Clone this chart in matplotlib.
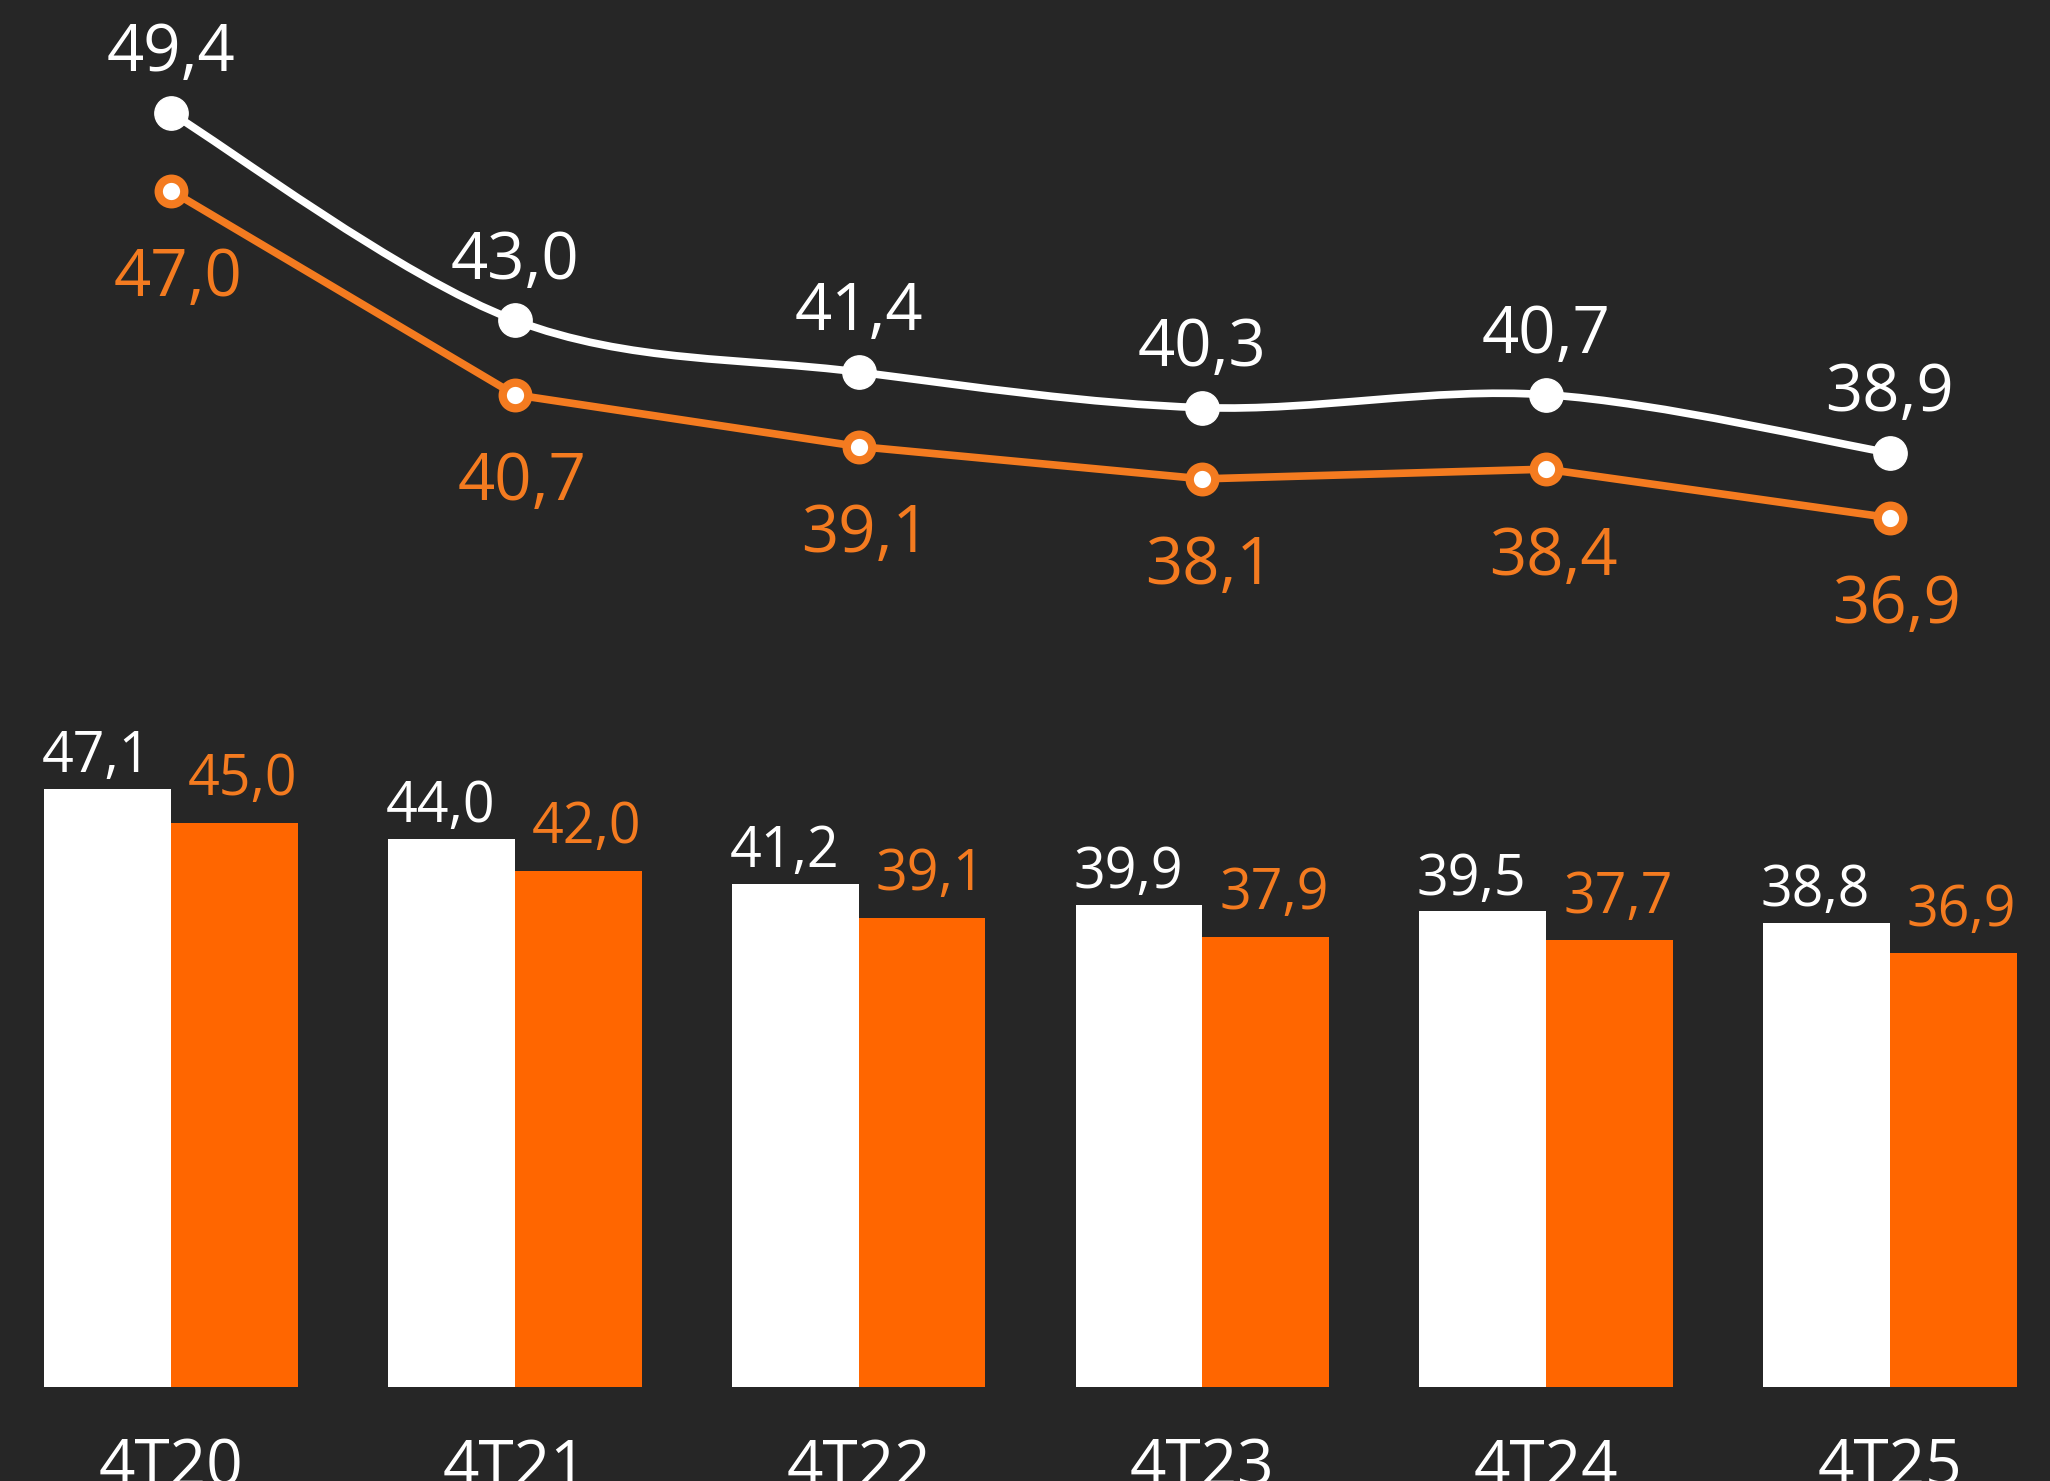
import matplotlib
matplotlib.use('Agg')
import matplotlib.pyplot as plt
from matplotlib.path import Path
import matplotlib.patches as mpatches
import numpy as np

plt.rcParams['font.family'] = ['Open Sans', 'DejaVu Sans']

# data
quarters = ['4T20', '4T21', '4T22', '4T23', '4T24', '4T25']
line_white = [49.4, 43.0, 41.4, 40.3, 40.7, 38.9]
line_orange = [47.0, 40.7, 39.1, 38.1, 38.4, 36.9]
bar_white = [47.1, 44.0, 41.2, 39.9, 39.5, 38.8]
bar_orange = [45.0, 42.0, 39.1, 37.9, 37.7, 36.9]

def fmt(v):
    return '{:.1f}'.format(v).replace('.', ',')

bg = '#262626'
orange_line = '#F47B20'
orange_bar = '#FF6600'

W, H = 2050, 1481
fig = plt.figure(figsize=(W / 100, H / 100), dpi=100)
fig.patch.set_facecolor(bg)

x = np.arange(len(quarters))
xlim = (-0.4974, 5.4654)

# bar axes: bottom at baseline (94 px from figure bottom)
bar_bottom_px = 94
bar_h_px = 800
ax_b = fig.add_axes([0, bar_bottom_px / H, 1, bar_h_px / H])
ax_b.set_facecolor('none')
ax_b.set_xlim(*xlim)
ax_b.set_ylim(10, 10 + bar_h_px / 16.12)
w = 0.3686
ax_b.bar(x - w / 2, bar_white, width=w, color='white', linewidth=0)
ax_b.bar(x + w / 2, bar_orange, width=w, color=orange_bar, linewidth=0)
for i in range(len(quarters)):
    ax_b.annotate(fmt(bar_white[i]), (x[i] - w / 2, bar_white[i]),
                  xytext=(-8, 12), textcoords='offset points',
                  ha='center', va='baseline', color='white', fontsize=40)
    ax_b.annotate(fmt(bar_orange[i]), (x[i] + w / 2, bar_orange[i]),
                  xytext=(6, 20), textcoords='offset points',
                  ha='center', va='baseline', color=orange_line, fontsize=40)
    ax_b.annotate(quarters[i], (x[i], 10), xytext=(0, -71),
                  textcoords='offset points', ha='center', va='baseline',
                  color='white', fontsize=46, annotation_clip=False)
ax_b.axis('off')

# line axes over the full figure
ax_l = fig.add_axes([0, 0, 1, 1])
ax_l.set_facecolor('none')
ax_l.set_xlim(*xlim)
ax_l.set_ylim(7.15, 52.89)
ax_l.axis('off')

# smoothed white line (bezier through the data points)
pts = np.column_stack([x, line_white]).astype(float)
n = len(pts)
verts = [pts[0]]
codes = [Path.MOVETO]
for i in range(n - 1):
    p0 = pts[max(i - 1, 0)]
    p1 = pts[i]
    p2 = pts[i + 1]
    p3 = pts[min(i + 2, n - 1)]
    c1 = p1 + (p2 - p0) / 6.0
    c2 = p2 - (p3 - p1) / 6.0
    verts += [c1, c2, p2]
    codes += [Path.CURVE4] * 3
ax_l.add_patch(mpatches.PathPatch(Path(verts, codes), facecolor='none',
                                  edgecolor='white', lw=5.5, capstyle='round'))
ax_l.plot(x, line_white, 'o', color='white', markersize=24, zorder=4)

ax_l.plot(x, line_orange, color=orange_line, lw=5.5, marker='o',
          markersize=18.4, markerfacecolor='white',
          markeredgecolor=orange_line, markeredgewidth=6, zorder=3)

for i in range(len(quarters)):
    ax_l.annotate(fmt(line_white[i]), (x[i], line_white[i]),
                  xytext=(0, 30), textcoords='offset points',
                  ha='center', va='baseline', color='white', fontsize=47)
    ax_l.annotate(fmt(line_orange[i]), (x[i], line_orange[i]),
                  xytext=(5, -76), textcoords='offset points',
                  ha='center', va='baseline', color=orange_line, fontsize=47)

fig.savefig('out.png', dpi=100, facecolor=bg)
